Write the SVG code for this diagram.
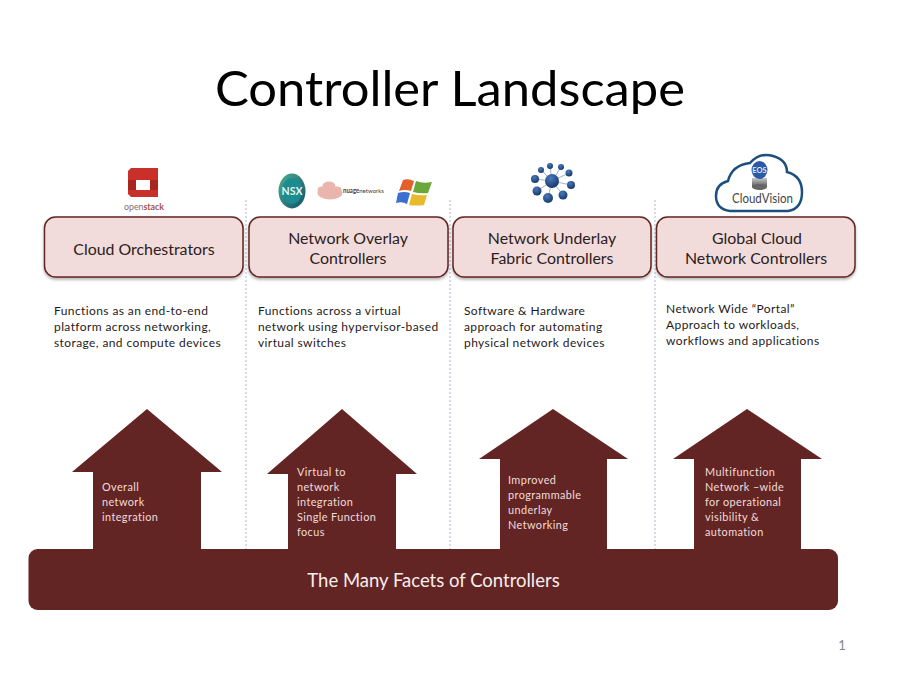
<svg xmlns="http://www.w3.org/2000/svg" width="900" height="675" viewBox="0 0 900 675">
<style>
text{font-family:"Lato","Open Sans","Liberation Sans",sans-serif;fill:#1f1a1a}
.title{font-size:48px;fill:#000}
.box{fill:#f2dcdb;stroke:#632523;stroke-width:1.5}
.bt{font-size:15.9px;text-anchor:middle;fill:#2a2020}
.desc{font-size:12px;letter-spacing:.4px}
.up{font-size:10.900px;letter-spacing:.4px;fill:#f2dcdb}
.shape{fill:#632523}
.sep{stroke:#a9b4cc;stroke-width:1;stroke-dasharray:2 2;fill:none}
</style>
<defs>
<filter id="sh" x="-5%" y="-10%" width="110%" height="125%"><feDropShadow dx="0" dy="2" stdDeviation="1.5" flood-color="#000" flood-opacity=".3"/></filter>
<linearGradient id="nsx" x1="0" y1="0" x2="1" y2="1"><stop offset="0" stop-color="#4fae8c"/><stop offset="1" stop-color="#12506f"/></linearGradient>
<radialGradient id="ball" cx=".4" cy=".3" r=".8"><stop offset="0" stop-color="#4a78c0"/><stop offset="1" stop-color="#12305f"/></radialGradient>
<linearGradient id="disk" x1="0" y1="0" x2="0" y2="1"><stop offset="0" stop-color="#c9c9c9"/><stop offset="1" stop-color="#555"/></linearGradient>
</defs>
<rect width="900" height="675" fill="#fff"/>
<text class="title" x="215" y="106" textLength="470" lengthAdjust="spacingAndGlyphs">Controller Landscape</text>
<g id="connectors">
<line class="sep" x1="246" y1="200" x2="246" y2="549"/>
<line class="sep" x1="450" y1="200" x2="450" y2="549"/>
<line class="sep" x1="655" y1="200" x2="655" y2="549"/>
</g>
<g id="logo-openstack">
<path d="M131 168H158V197H131L128 194V171Z" fill="#c9302a"/>
<path d="M128 180H136V190H128ZM150 180H158V190H150Z" fill="#a82520"/>
<path d="M136 180H150V190H136Z" fill="#fff"/>
<text x="124" y="210" font-size="9.500" style="fill:#8a6a68" textLength="40" lengthAdjust="spacingAndGlyphs">open<tspan font-weight="700" style="fill:#a8504a">stack</tspan></text>
</g>
<g id="logo-nsx">
<ellipse cx="292" cy="191" rx="13.500" ry="17.500" fill="url(#nsx)"/>
<ellipse cx="292" cy="191" rx="10" ry="13" fill="#1c8c8e"/>
<text x="292" y="195" text-anchor="middle" font-size="10.500" font-weight="700" style="fill:#e8f5f0">NSX</text>
</g>
<g id="logo-nuage">
<g fill="#eab5ae">
<ellipse cx="330" cy="193" rx="12.500" ry="6.500"/>
<ellipse cx="329" cy="186" rx="6.500" ry="4.500"/>
<ellipse cx="322" cy="190" rx="4.500" ry="3.500"/>
<ellipse cx="337" cy="190" rx="4.500" ry="3.500"/>
</g>
<text x="343" y="193" font-size="6.500" font-weight="700" style="fill:#4a3a3a" textLength="41" lengthAdjust="spacingAndGlyphs">nuage<tspan font-weight="400">networks</tspan></text>
</g>
<g id="logo-windows">
<path d="M403 180Q408 178 414 181L411 191Q405 189 399 191Z" fill="#e2612a"/>
<path d="M416 181Q423 184 432 182L428 193Q421 194 413 192Z" fill="#6aa83a"/>
<path d="M398 193Q404 191 410 193L407 204Q402 201 396 203Z" fill="#3a6fd0"/>
<path d="M412 194Q420 196 427 195L424 205Q417 206 409 205Z" fill="#e8bb2c"/>
</g>
<g id="logo-network">
<g stroke="#8aa0c8" stroke-width=".8">
<line x1="552" y1="181" x2="535" y2="179"/><line x1="552" y1="181" x2="541" y2="170"/><line x1="552" y1="181" x2="550" y2="166"/><line x1="552" y1="181" x2="561" y2="167"/><line x1="552" y1="181" x2="569" y2="173"/><line x1="552" y1="181" x2="571" y2="185"/><line x1="552" y1="181" x2="537" y2="191"/><line x1="552" y1="181" x2="548" y2="198"/><line x1="552" y1="181" x2="563" y2="195"/>
</g>
<g fill="url(#ball)">
<circle cx="552" cy="181" r="7"/><circle cx="535" cy="179" r="4"/><circle cx="541" cy="170" r="3"/><circle cx="550" cy="166" r="3"/><circle cx="561" cy="167" r="3"/><circle cx="569" cy="173" r="3.500"/><circle cx="571" cy="185" r="4"/><circle cx="537" cy="191" r="4.500"/><circle cx="548" cy="198" r="5"/><circle cx="563" cy="195" r="4.500"/>
</g>
</g>
<g id="logo-cloudvision">
<path d="M730 211Q716 209 716 196Q716 184 728 181Q732 165 750 163Q760 152 773 156Q787 160 787 172Q802 176 802 192Q802 209 788 211Z" fill="#fff" stroke="#1d4f7e" stroke-width="2.500"/>
<rect x="752" y="178" width="15" height="9" fill="url(#disk)"/>
<ellipse cx="759.500" cy="187" rx="7.500" ry="3" fill="#666"/>
<ellipse cx="759.500" cy="170" rx="8" ry="9" fill="#2b5aa6"/>
<text x="759.500" y="173" text-anchor="middle" font-size="7.500" font-weight="700" style="fill:#dfe8f5">EOS</text>
<text x="732" y="203" font-size="13" style="fill:#444" textLength="61" lengthAdjust="spacingAndGlyphs">CloudVision</text>
</g>
<g id="node-cloud-orchestrators">
<rect class="box" x="44.500" y="217" width="198.500" height="60" rx="11" filter="url(#sh)"/>
<text class="bt" x="144" y="255">Cloud Orchestrators</text>
</g>
<g id="node-overlay">
<rect class="box" x="249" y="217" width="199" height="60" rx="11" filter="url(#sh)"/>
<text class="bt" x="348" y="244">Network Overlay</text>
<text class="bt" x="348" y="264">Controllers</text>
</g>
<g id="node-underlay">
<rect class="box" x="453" y="217" width="198" height="60" rx="11" filter="url(#sh)"/>
<text class="bt" x="552" y="244">Network Underlay</text>
<text class="bt" x="552" y="264">Fabric Controllers</text>
</g>
<g id="node-global">
<rect class="box" x="656.500" y="217" width="198.500" height="60" rx="11" filter="url(#sh)"/>
<text class="bt" x="757" y="244">Global Cloud</text>
<text class="bt" x="756" y="264">Network Controllers</text>
</g>
<g id="desc-1">
<text class="desc" x="54" y="315">Functions as an end-to-end</text>
<text class="desc" x="54" y="331">platform across networking,</text>
<text class="desc" x="54" y="347">storage, and compute devices</text>
</g>
<g id="desc-2">
<text class="desc" x="258" y="315">Functions across a virtual</text>
<text class="desc" x="258" y="331">network using hypervisor-based</text>
<text class="desc" x="258" y="347">virtual switches</text>
</g>
<g id="desc-3">
<text class="desc" x="464" y="315">Software &amp; Hardware</text>
<text class="desc" x="464" y="331">approach for automating</text>
<text class="desc" x="464" y="347">physical network devices</text>
</g>
<g id="desc-4">
<text class="desc" x="666" y="313">Network Wide “Portal”</text>
<text class="desc" x="666" y="329">Approach to workloads,</text>
<text class="desc" x="666" y="345">workflows and applications</text>
</g>
<g id="arrow-1">
<path class="shape" d="M147 409L222 472H201V550H93V472H72Z"/>
<text class="up" x="102" y="491">Overall</text>
<text class="up" x="102" y="506">network</text>
<text class="up" x="102" y="521">integration</text>
</g>
<g id="arrow-2">
<path class="shape" d="M342 409L417 474H396V550H288V474H267Z"/>
<text class="up" x="297" y="476">Virtual to</text>
<text class="up" x="297" y="491">network</text>
<text class="up" x="297" y="506">integration</text>
<text class="up" x="297" y="521">Single Function</text>
<text class="up" x="297" y="536">focus</text>
</g>
<g id="arrow-3">
<path class="shape" d="M553 409L628 459H607V550H500V459H479Z"/>
<text class="up" x="508" y="484">Improved</text>
<text class="up" x="508" y="499">programmable</text>
<text class="up" x="508" y="514">underlay</text>
<text class="up" x="508" y="529">Networking</text>
</g>
<g id="arrow-4">
<path class="shape" d="M747 409L822 459H801V550H694V459H673Z"/>
<text class="up" x="705" y="476">Multifunction</text>
<text class="up" x="705" y="491">Network –wide</text>
<text class="up" x="705" y="506">for operational</text>
<text class="up" x="705" y="521">visibility &amp;</text>
<text class="up" x="705" y="536">automation</text>
</g>
<g id="node-base">
<rect class="shape" x="28.500" y="549" width="809.500" height="61" rx="9"/>
<text x="433.500" y="587" text-anchor="middle" font-size="18.500" style="fill:#f7eeee">The Many Facets of Controllers</text>
</g>
<text x="842" y="650" text-anchor="middle" font-size="13" style="fill:#888">1</text>
</svg>
